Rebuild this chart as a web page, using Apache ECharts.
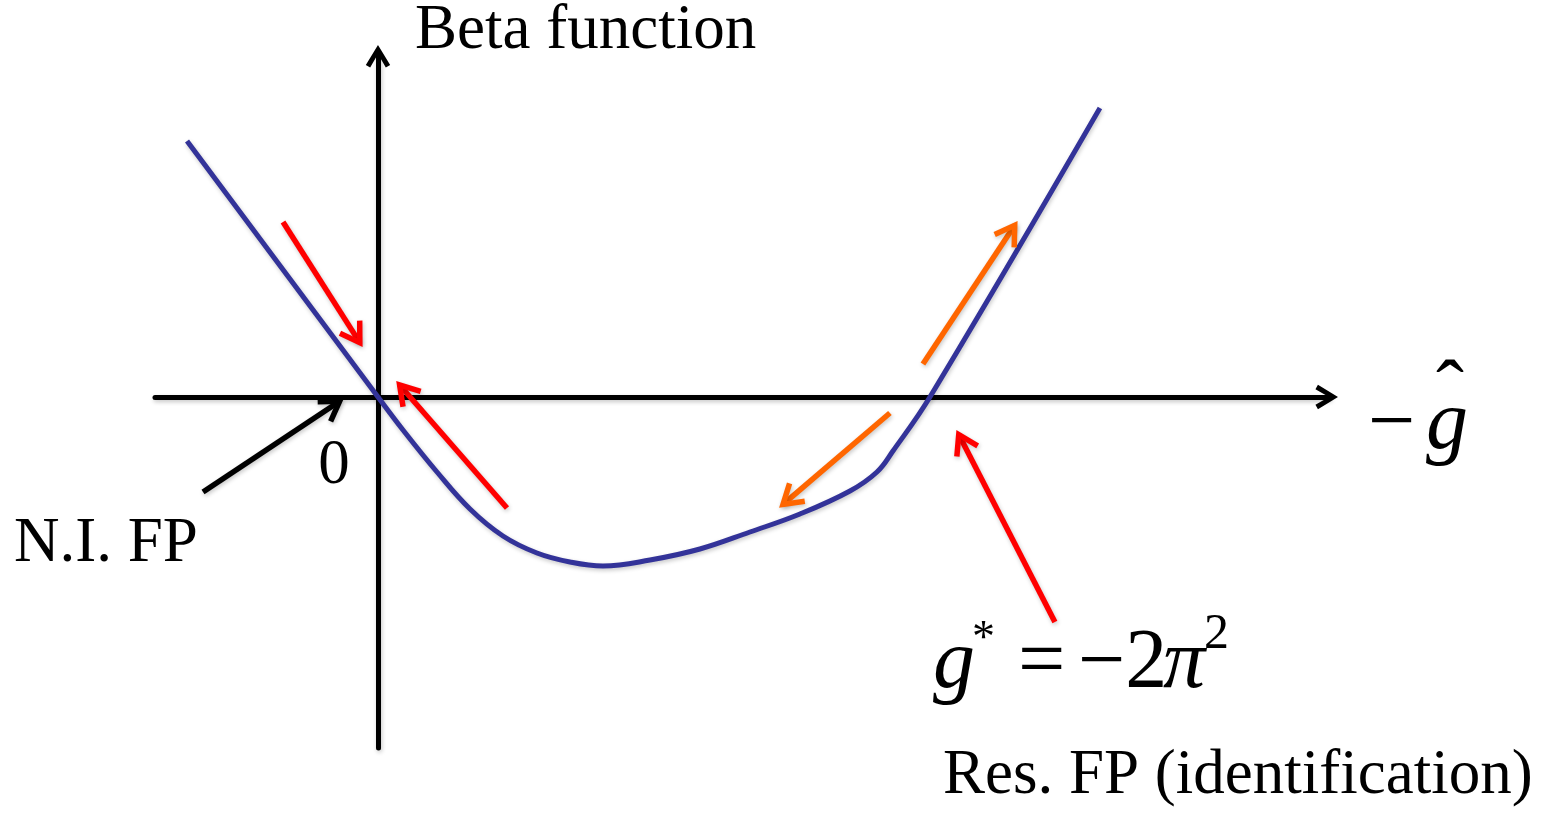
<!DOCTYPE html>
<html>
<head>
<meta charset="utf-8">
<script src="https://cdn.jsdelivr.net/npm/echarts@6/dist/echarts.min.js"></script>
<style>
  html, body { margin: 0; padding: 0; background: #ffffff; }
  #chart { width: 1545px; height: 817px; }
</style>
</head>
<body>
<div id="chart"></div>
<script>
// ---- Data (units: fixed point g* at x = 10, origin at 0) ----
const curveX = [-3.46, 0, 0.453, 1.069, 1.667, 2.264, 2.880, 3.478, 4.076, 4.928, 5.833, 6.739, 7.645, 8.551, 9.040, 9.330, 10, 13.08];
const curveY = [2.56, 0, -0.33, -0.75, -1.12, -1.39, -1.56, -1.65, -1.69, -1.63, -1.52, -1.35, -1.17, -0.94, -0.75, -0.54, 0, 2.89];

// arrows: [startX, startY, tipX, tipY]
const redArrows = [
  [-1.721, 1.75, -0.290, 0.51],
  [2.337, -1.11, 0.344, 0.15],
  [12.264, -2.25, 10.489, -0.34]
];
const orangeArrows = [
  [9.873, 0.33, 11.576, 1.75],
  [9.275, -0.16, 7.283, -1.10]
];
const blackArrows = [
  [-3.170, -0.95, -0.634, -0.02]
];

const xRange = [-4.04, 17.23];
const yRange = [-3.51, 3.43];

const FONT = '"Liberation Serif", "Times New Roman", serif';
const chevron = 'path://M12.17,0L24.34,20.05L20,22.55L12.17,9L4.34,22.55L0,20.05Z';
const shadow = { shadowColor: 'rgba(0,0,0,0.22)', shadowBlur: 4, shadowOffsetX: 1, shadowOffsetY: 2 };

function arrowRenderer(color) {
  return function (params, api) {
    const s = api.coord([api.value(0), api.value(1)]);
    const e = api.coord([api.value(2), api.value(3)]);
    const ang = Math.atan2(e[1] - s[1], e[0] - s[0]);
    const back = 4;
    const t = [e[0] - back * Math.cos(ang), e[1] - back * Math.sin(ang)];
    const L = 22, a = Math.PI / 5.6;
    const h1 = [t[0] - L * Math.cos(ang - a), t[1] - L * Math.sin(ang - a)];
    const h2 = [t[0] - L * Math.cos(ang + a), t[1] - L * Math.sin(ang + a)];
    const st = Object.assign({ stroke: color, lineWidth: 5.5, fill: null }, shadow);
    return {
      type: 'group',
      children: [
        { type: 'line', shape: { x1: s[0], y1: s[1], x2: t[0], y2: t[1] }, style: st },
        { type: 'polyline', shape: { points: [h1, t, h2] }, style: Object.assign({ lineJoin: 'miter' }, st) }
      ]
    };
  };
}

function txt(text, x, y, size, opts) {
  return {
    type: 'text',
    z: 100,
    style: {
      text: text, x: x, y: y,
      font: (opts && opts.italic ? 'italic ' : '') + size + 'px ' + FONT,
      fill: '#000',
      textAlign: (opts && opts.align) || 'left',
      textVerticalAlign: 'middle'
    }
  };
}

const axisCommon = {
  type: 'value',
  axisTick: { show: false },
  axisLabel: { show: false },
  splitLine: { show: false },
  axisLine: {
    show: true,
    onZero: true,
    symbol: ['none', chevron],
    symbolSize: [24.34, 22.55],
    symbolOffset: [0, -2.28],
    lineStyle: Object.assign({ color: '#000', width: 5 }, shadow)
  }
};

const chart = echarts.init(document.getElementById('chart'), null, { renderer: 'canvas' });
chart.setOption({
  animation: false,
  backgroundColor: '#ffffff',
  grid: { left: 155, right: 216, top: 54, bottom: 69 },
  xAxis: Object.assign({}, axisCommon, { min: xRange[0], max: xRange[1] }),
  yAxis: Object.assign({}, axisCommon, { min: yRange[0], max: yRange[1] }),
  series: [
    {
      type: 'line',
      data: curveX.map((x, i) => [x, curveY[i]]),
      smooth: 0.4,
      symbol: 'none',
      z: 5,
      lineStyle: Object.assign({ color: '#333399', width: 5 }, shadow)
    },
    { type: 'custom', renderItem: arrowRenderer('#ff0000'), data: redArrows, z: 6 },
    { type: 'custom', renderItem: arrowRenderer('#ff6600'), data: orangeArrows, z: 6 },
    { type: 'custom', renderItem: arrowRenderer('#000000'), data: blackArrows, z: 6 }
  ],
  graphic: [
    txt('Beta function', 415, 31, 63),
    txt('0', 334, 466, 63, { align: 'center' }),
    txt('N.I. FP', 14, 544, 63),
    txt('Res. FP (identification)', 943, 776, 63),
    txt('\u2212', 1368, 426, 84),
    txt('g', 1426, 426, 84, { italic: true }),
    txt('\u02C6', 1450, 396, 84, { align: 'center' }),
    txt('g', 933, 665, 84, { italic: true }),
    txt('*', 972, 640, 46),
    txt('=', 1018, 665, 84),
    txt('\u22122', 1078, 665, 84),
    txt('\u03C0', 1163, 665, 84, { italic: true }),
    txt('2', 1204, 635, 50)
  ]
});
</script>
</body>
</html>
